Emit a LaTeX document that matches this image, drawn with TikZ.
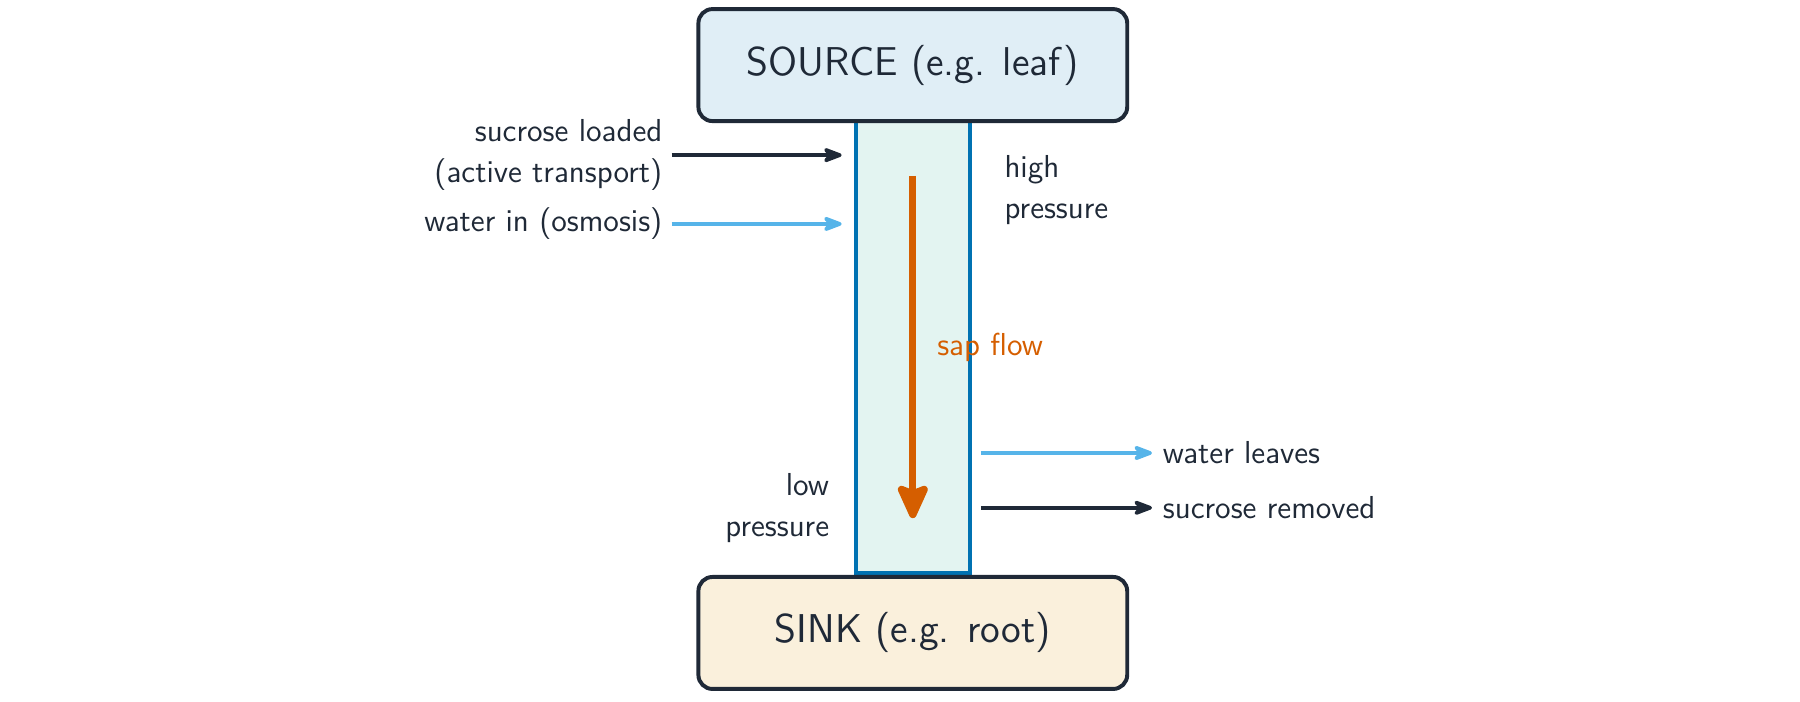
\documentclass[tikz,border=0pt]{standalone}
\usepackage{tikz}
\usetikzlibrary{arrows.meta, positioning, calc}
\renewcommand{\familydefault}{\sfdefault}
\definecolor{ink}{HTML}{1F2937}
\definecolor{srcfill}{HTML}{E0EEF6}
\definecolor{sinkfill}{HTML}{FAF0DC}
\definecolor{tubefill}{HTML}{E3F4F1}
\definecolor{tubeblue}{HTML}{0072B2}
\definecolor{sapcol}{HTML}{D55E00}
\definecolor{watercol}{HTML}{56B4E9}

\begin{document}
\begin{tikzpicture}[
    >=Stealth,
    organ/.style={draw=ink, line width=1.4pt, rounded corners=5pt,
                  minimum width=5.36cm, minimum height=1.4cm, text=ink,
                  font=\sffamily\fontsize{14.3}{17}\selectfont},
    phloem/.style={draw=tubeblue, fill=tubefill, line width=1.4pt,
                   minimum width=1.43cm, minimum height=5.649cm},
    lbl/.style={text=ink, inner sep=0pt,
                font=\sffamily\fontsize{11.3}{14.6}\selectfont},
    sideflow/.style={-{Stealth[round]}, line width=1.3pt},
    flow/.style={-{Stealth[round, length=5mm, width=4.4mm, inset=0.8mm]},
                 line width=2.6pt, sapcol}
]
\useasboundingbox (0,0) rectangle (22.5,-8.7625);

% --- Phloem tube and the two ends ---
\node[phloem] (tube) at (11.41,-4.338) {};
\node[organ, fill=srcfill, above=-1.4pt of tube] (source) {SOURCE (e.g. leaf)};
\node[organ, fill=sinkfill, below=0pt of tube]   (sink)   {SINK (e.g. root)};

% --- Mass flow ---
\coordinate (flowtop) at ([yshift=-0.71cm]tube.north);
\coordinate (flowend) at ([yshift=0.71cm]tube.south);
\draw[flow] (flowtop) -- node[lbl, right=0.26cm, text=sapcol] (saplbl) {sap flow} (flowend);

% --- Loading at the source ---
\coordinate (loadend)   at ($(tube.north west)+(-0.15,-0.45)$);
\coordinate (loadstart) at ($(loadend)+(-2.125,0)$);
\coordinate (wetend)    at ($(tube.north west)+(-0.15,-1.31)$);
\coordinate (wetstart)  at ($(wetend)+(-2.125,0)$);
\draw[sideflow, ink]      (loadstart) -- (loadend);
\draw[sideflow, watercol] (wetstart)  -- (wetend);
\node[lbl, left=0.11cm of loadstart, align=right] (loadlbl) {sucrose loaded\\(active transport)};
\node[lbl, left=0.11cm of wetstart]               (wetlbl)  {water in (osmosis)};
\node[lbl, anchor=west, align=left] (highlbl) at ($(tube.north east)+(0.4,-0.89)$) {high\\pressure};

% --- Unloading at the sink ---
\coordinate (leavestart) at ($(tube.south east)+(0.11,1.525)$);
\coordinate (leaveend)   at ($(leavestart)+(2.14,0)$);
\coordinate (unldstart)  at ($(tube.south east)+(0.11,0.84)$);
\coordinate (unldend)    at ($(unldstart)+(2.14,0)$);
\draw[sideflow, watercol] (leavestart) -- (leaveend);
\draw[sideflow, ink]      (unldstart)  -- (unldend);
\node[lbl, right=0.13cm of leaveend] (leavelbl) {water leaves};
\node[lbl, right=0.13cm of unldend]  (unldlbl)  {sucrose removed};
\node[lbl, anchor=east, align=right] (lowlbl) at ($(tube.south west)+(-0.3,0.84)$) {low\\pressure};

\end{tikzpicture}
\end{document}
